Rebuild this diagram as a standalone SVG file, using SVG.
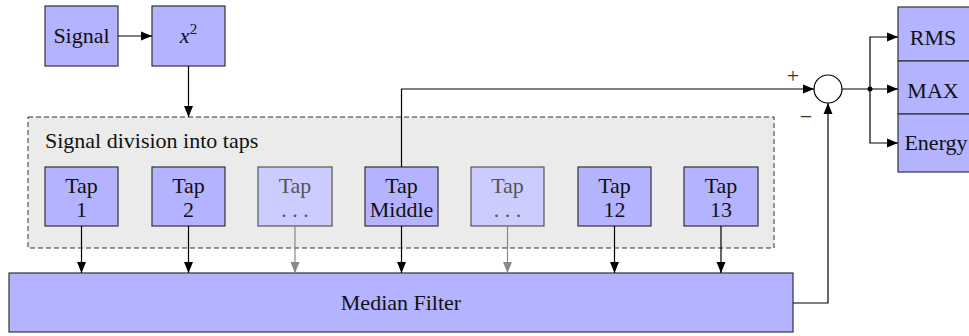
<svg xmlns="http://www.w3.org/2000/svg" width="969" height="336" viewBox="0 0 969 336">
<style>
.box{fill:#b3b3ff;stroke:#333;stroke-width:1.2}
.lbox{fill:#ccccff;stroke:#555;stroke-width:1.2}
.t{font-family:'Liberation Serif','Times New Roman',serif;font-size:22px;fill:#111;text-anchor:middle}
.tg{fill:#555}
.c{fill:none;stroke:#000;stroke-width:1.2}
.cg{fill:none;stroke:#888;stroke-width:1.2}
</style>
<defs>
<marker id="a" markerUnits="userSpaceOnUse" markerWidth="12" markerHeight="10" refX="11" refY="5" orient="auto"><path d="M0,0.5 L11,5 L0,9.5 z" fill="#000"/></marker>
<marker id="ag" markerUnits="userSpaceOnUse" markerWidth="12" markerHeight="10" refX="11" refY="5" orient="auto"><path d="M0,0.5 L11,5 L0,9.5 z" fill="#888"/></marker>
</defs>
<g id="division">
<rect x="28" y="117" width="746" height="131" fill="#ebebeb" stroke="#333" stroke-width="1" stroke-dasharray="5,3"/>
<text class="t" x="45" y="148" style="text-anchor:start">Signal division into taps</text>
</g>
<g id="signal"><rect class="box" x="45" y="6" width="73" height="60"/><text class="t" x="81.5" y="43">Signal</text></g>
<g id="square"><rect class="box" x="152" y="6" width="73" height="60"/><text class="t" x="188.5" y="43"><tspan font-style="italic">x</tspan><tspan font-size="15" dy="-9">2</tspan></text></g>
<g id="tap1"><rect class="box" x="45" y="167" width="73" height="59"/><text class="t" x="81.5" y="193">Tap</text><text class="t" x="81.5" y="217">1</text></g>
<g id="tap2"><rect class="box" x="152" y="167" width="73" height="59"/><text class="t" x="188.5" y="193">Tap</text><text class="t" x="188.5" y="217">2</text></g>
<g id="tapdots1"><rect class="lbox" x="258" y="167" width="74" height="59"/><text class="t tg" x="295" y="193">Tap</text><text class="t tg" x="295" y="217">. . .</text></g>
<g id="tapmiddle"><rect class="box" x="365" y="167" width="73" height="59"/><text class="t" x="401.5" y="193">Tap</text><text class="t" x="401.5" y="217">Middle</text></g>
<g id="tapdots2"><rect class="lbox" x="471" y="167" width="73" height="59"/><text class="t tg" x="507.5" y="193">Tap</text><text class="t tg" x="507.5" y="217">. . .</text></g>
<g id="tap12"><rect class="box" x="578" y="167" width="73" height="59"/><text class="t" x="614.5" y="193">Tap</text><text class="t" x="614.5" y="217">12</text></g>
<g id="tap13"><rect class="box" x="684" y="167" width="74" height="59"/><text class="t" x="721" y="193">Tap</text><text class="t" x="721" y="217">13</text></g>
<g id="median"><rect class="box" x="9" y="273" width="784" height="59"/><text class="t" x="401" y="310">Median Filter</text></g>
<g id="sum"><circle cx="828" cy="89" r="14" fill="#fff" stroke="#000" stroke-width="1.2"/><text class="t" x="793" y="83" style="fill:#333">+</text><text class="t" x="806" y="124" style="fill:#333">−</text></g>
<g id="rms"><rect class="box" x="898" y="7" width="72" height="54"/><text class="t" x="933" y="45">RMS</text></g>
<g id="max"><rect class="box" x="898" y="61" width="72" height="53"/><text class="t" x="933" y="98">MAX</text></g>
<g id="energy"><rect class="box" x="898" y="114" width="72" height="58"/><text class="t" x="936" y="150">Energy</text></g>
<g id="connectors">
<path class="c" d="M118,36 H152" marker-end="url(#a)"/>
<path class="c" d="M188.5,66 V117" marker-end="url(#a)"/>
<path class="c" d="M81.5,226 V273" marker-end="url(#a)"/>
<path class="c" d="M188.5,226 V273" marker-end="url(#a)"/>
<path class="cg" d="M295,226 V273" marker-end="url(#ag)"/>
<path class="c" d="M401.5,226 V273" marker-end="url(#a)"/>
<path class="cg" d="M507.5,226 V273" marker-end="url(#ag)"/>
<path class="c" d="M614.5,226 V273" marker-end="url(#a)"/>
<path class="c" d="M721,226 V273" marker-end="url(#a)"/>
<path class="c" d="M401.5,167 V89 H814" marker-end="url(#a)"/>
<path class="c" d="M793,303 H828 V103" marker-end="url(#a)"/>
<path class="c" d="M842,89 H898" marker-end="url(#a)"/>
<path class="c" d="M870,89 V37 H898" marker-end="url(#a)"/>
<path class="c" d="M870,89 V143 H898" marker-end="url(#a)"/>
<circle cx="870" cy="89" r="2.5" fill="#000"/>
</g>
</svg>
